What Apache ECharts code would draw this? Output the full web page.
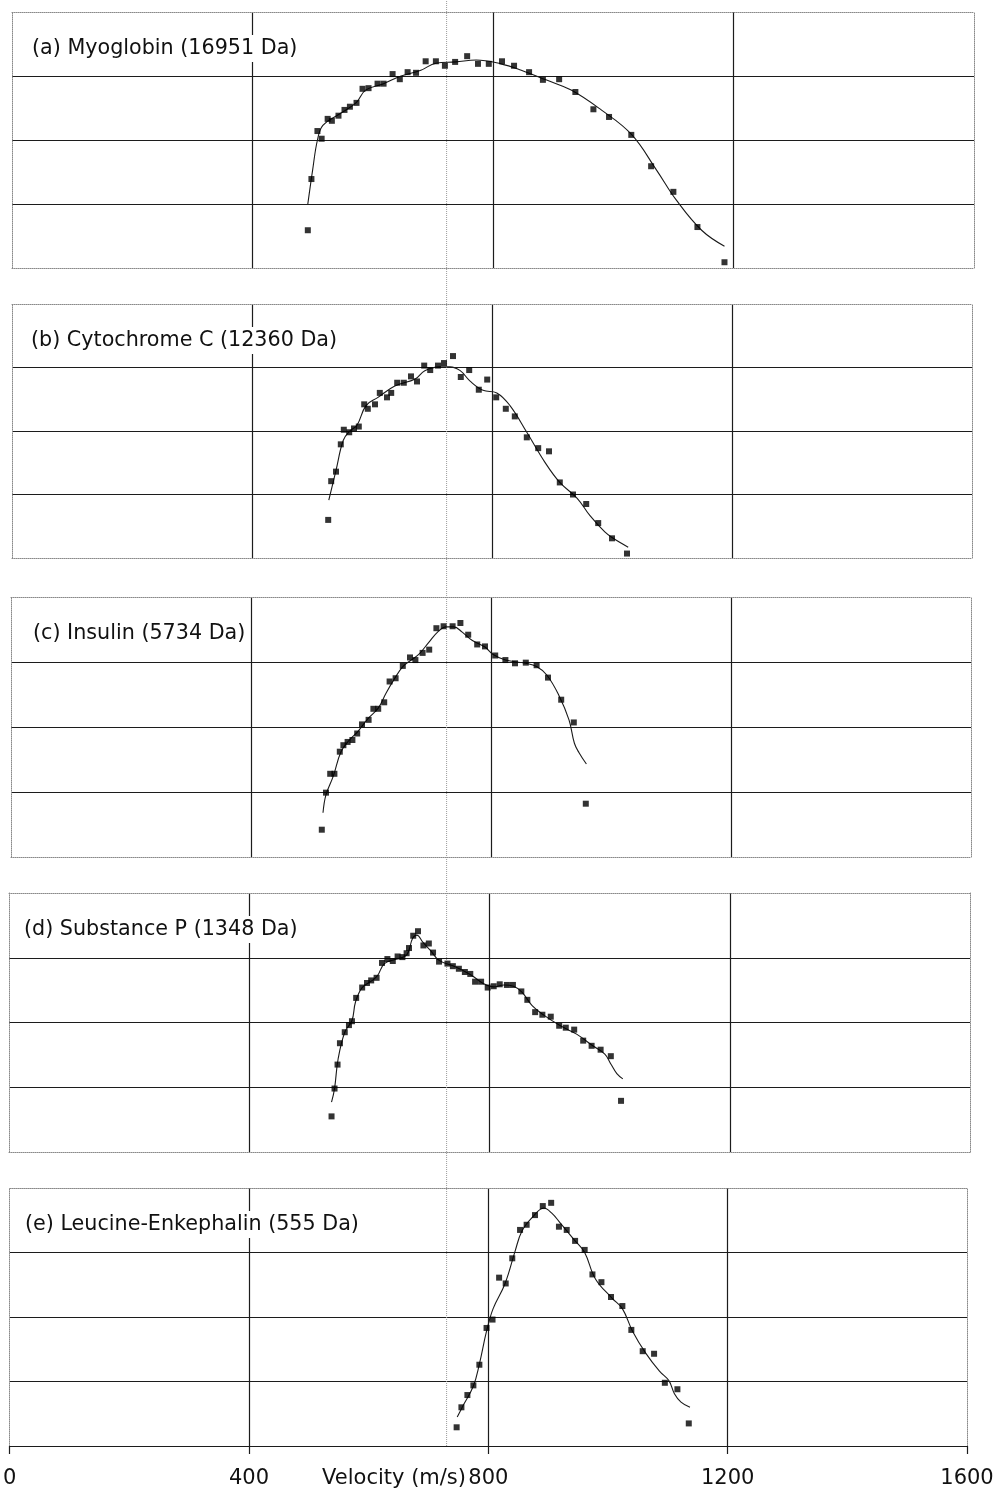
<!DOCTYPE html>
<html>
<head>
<meta charset="utf-8">
<script src="https://cdn.jsdelivr.net/npm/echarts@6/dist/echarts.min.js"></script>
<style>
  html, body { margin: 0; padding: 0; background: #fff; }
  #chart { width: 1006px; height: 1495px; }
</style>
</head>
<body>
<div id="chart"></div>
<script>
// panel titles
var panelNames = ['(a) Myoglobin (16951 Da)', '(b) Cytochrome C (12360 Da)', '(c) Insulin (5734 Da)',
    '(d) Substance P (1348 Da)', '(e) Leucine-Enkephalin (555 Da)'];

// x axis ticks (m/s)
var velTicks = [0, 400, 800, 1200, 1600];
var refVel = 726;

// (a) myoglobin
var aVel = [492,498,508,515,525,532,543,553,562,573,583,593,608,618,633,645,658,672,688,705,720,737,757,775,793,815,835,860,883,910,937,967,993,1030,1063,1100,1140,1185];
var aInt = [0.59,1.39,2.14,2.02,2.33,2.30,2.38,2.47,2.52,2.58,2.80,2.81,2.88,2.88,3.03,2.95,3.06,3.05,3.23,3.23,3.16,3.22,3.31,3.19,3.19,3.23,3.16,3.06,2.94,2.95,2.75,2.48,2.36,2.08,1.59,1.19,0.64,0.09];
var aFitVel = [492,500,508,517,542,572,588,618,647,680,705,738,772,813,847,888,930,980,1030,1072,1105,1147,1185];
var aFitInt = [1.0,1.53,2.0,2.23,2.39,2.58,2.78,2.88,3.0,3.09,3.2,3.22,3.25,3.19,3.09,2.94,2.78,2.47,2.09,1.53,1.06,0.59,0.34];

// (b) cytochrome c
var bVel = [527,532,540,548,553,562,570,578,587,593,605,613,625,632,642,653,665,675,687,697,710,720,735,748,762,778,792,807,823,838,858,877,895,913,935,957,977,1000,1025];
var bInt = [0.60,1.21,1.36,1.79,2.02,1.98,2.04,2.07,2.42,2.35,2.42,2.60,2.53,2.60,2.76,2.76,2.86,2.78,3.03,2.96,3.03,3.07,3.18,2.85,2.96,2.65,2.81,2.53,2.35,2.23,1.90,1.73,1.68,1.19,1.0,0.85,0.55,0.31,0.07];
var bFitVel = [528,540,552,563,575,590,610,638,672,688,713,730,747,763,785,808,830,858,888,913,942,963,988,1002,1027];
var bFitInt = [0.91,1.38,1.85,2.0,2.09,2.4,2.53,2.71,2.82,2.95,3.01,3.01,2.95,2.79,2.64,2.6,2.4,1.98,1.51,1.19,0.94,0.67,0.41,0.31,0.17];

// (c) insulin
var cVel = [518,525,532,539,548,554,561,569,577,585,596,604,612,622,631,641,653,665,674,686,697,709,721,736,749,762,777,790,807,824,840,858,876,895,917,938,958];
var cInt = [0.42,0.99,1.28,1.28,1.62,1.72,1.77,1.80,1.90,2.04,2.11,2.28,2.28,2.38,2.70,2.75,2.94,3.07,3.03,3.14,3.19,3.52,3.55,3.55,3.60,3.42,3.27,3.24,3.10,3.03,2.98,2.99,2.95,2.76,2.42,2.07,0.82];
var cFitVel = [520,525,537,550,564,578,595,612,625,639,653,667,680,697,711,725,738,752,769,790,803,824,858,876,893,913,930,939,947,959];
var cFitInt = [0.68,0.96,1.24,1.62,1.80,1.93,2.13,2.29,2.52,2.74,2.93,3.03,3.12,3.31,3.46,3.54,3.54,3.46,3.33,3.23,3.12,3.03,2.98,2.93,2.80,2.49,2.11,1.75,1.6,1.43];

// (d) substance p
var dVel = [537,542,547,551,559,566,571,578,588,596,603,612,621,630,639,647,655,662,666,673,681,690,699,706,716,730,739,749,759,768,776,786,797,807,817,829,839,853,863,876,888,902,916,927,941,956,970,985,1002,1019];
var dInt = [0.55,0.98,1.35,1.68,1.85,1.96,2.02,2.38,2.54,2.61,2.65,2.69,2.92,2.98,2.95,3.02,3.01,3.07,3.15,3.34,3.41,3.19,3.22,3.08,2.94,2.91,2.87,2.83,2.78,2.75,2.63,2.63,2.54,2.56,2.59,2.58,2.58,2.48,2.35,2.16,2.12,2.09,1.95,1.92,1.89,1.72,1.64,1.58,1.48,0.79];
var dFitVel = [537,542,548,559,571,577,588,605,614,625,645,662,672,679,689,702,716,743,770,790,807,824,840,854,871,891,918,945,972,992,1002,1012,1022];
var dFitInt = [0.77,0.98,1.44,1.85,2.03,2.32,2.54,2.65,2.73,2.91,2.98,3.04,3.30,3.35,3.24,3.11,2.96,2.86,2.73,2.60,2.55,2.58,2.56,2.47,2.26,2.11,1.95,1.82,1.64,1.51,1.36,1.21,1.13];

// (e) leucine-enkephalin
var eVel = [747,755,765,775,785,797,807,818,829,840,853,864,878,891,905,918,931,945,961,974,989,1005,1024,1039,1058,1077,1095,1116,1135];
var eInt = [0.29,0.60,0.79,0.94,1.26,1.83,1.96,2.61,2.52,2.91,3.35,3.43,3.58,3.72,3.77,3.40,3.35,3.18,3.04,2.66,2.54,2.31,2.17,1.80,1.47,1.43,0.98,0.88,0.35];
var eFitVel = [748,758,775,785,797,808,828,845,856,873,893,906,920,945,961,979,1007,1024,1041,1063,1086,1102,1111,1122,1137];
var eFitInt = [0.45,0.63,0.93,1.27,1.78,2.13,2.52,3.03,3.33,3.54,3.69,3.61,3.46,3.18,3.0,2.59,2.29,2.13,1.78,1.44,1.16,1.01,0.81,0.68,0.60];

var pointSets = [[aVel, aInt], [bVel, bInt], [cVel, cInt], [dVel, dInt], [eVel, eInt]];
var fitSets = [[aFitVel, aFitInt], [bFitVel, bFitInt], [cFitVel, cFitInt], [dFitVel, dFitInt], [eFitVel, eFitInt]];

// layout of the five stacked panels
var panelTop = [12, 304, 597, 893, 1188];
var panelHeight = [256, 254, 260, 259, 258];
var panelLeft = [12, 12, 11, 9, 8];
var panelWidth = [962, 960, 960, 961, 959];
var titleLeft = [28, 27, 29, 20, 21];

var zip = function (xs, ys) {
    var res = [];
    for (var i = 0; i < xs.length; i++) {
        res.push([xs[i], ys[i]]);
    }
    return res;
};

var font = 'DejaVu Sans';
var dotted = { color: '#8a8a8a', type: 'dotted', width: 1 };
var gridLine = { color: '#1c1c1c', width: 1.2 };

var grids = [], xAxes = [], yAxes = [], series = [], titles = [];

for (var i = 0; i < 5; i++) {
    var last = (i === 4);
    grids.push({ left: panelLeft[i], top: panelTop[i], width: panelWidth[i], height: panelHeight[i] });
    xAxes.push({
        gridIndex: i, type: 'value', min: 0, max: 1600, interval: 400, position: 'bottom',
        axisLine: { show: true, onZero: false, lineStyle: last ? { color: '#1c1c1c', width: 1.2 } : dotted },
        axisTick: { show: last, length: 8, lineStyle: { color: '#1c1c1c', width: 1.2 } },
        axisLabel: {
            show: last, color: '#111', fontFamily: font, fontSize: 21, margin: 22,
            formatter: function (v) { return velTicks.indexOf(v) >= 0 ? String(v) : ''; }
        },
        splitLine: { show: true, showMinLine: false, showMaxLine: false, lineStyle: gridLine }
    });
    xAxes.push({
        gridIndex: i, type: 'value', min: 0, max: 1600, position: 'top',
        axisLine: { show: true, onZero: false, lineStyle: dotted },
        axisTick: { show: false }, axisLabel: { show: false }, splitLine: { show: false }
    });
    yAxes.push({
        gridIndex: i, type: 'value', min: 0, max: 4, interval: 1, position: 'left',
        axisLine: { show: true, onZero: false, lineStyle: dotted },
        axisTick: { show: false }, axisLabel: { show: false },
        splitLine: { show: true, showMinLine: false, showMaxLine: false, lineStyle: gridLine }
    });
    yAxes.push({
        gridIndex: i, type: 'value', min: 0, max: 4, position: 'right',
        axisLine: { show: true, onZero: false, lineStyle: dotted },
        axisTick: { show: false }, axisLabel: { show: false }, splitLine: { show: false }
    });
    series.push({
        type: 'line', xAxisIndex: i * 2, yAxisIndex: i * 2,
        data: zip(fitSets[i][0], fitSets[i][1]),
        smooth: 0.4, showSymbol: false, symbol: 'none',
        lineStyle: { color: '#1a1a1a', width: 1.1 }, z: 3
    });
    series.push({
        type: 'scatter', xAxisIndex: i * 2, yAxisIndex: i * 2,
        data: zip(pointSets[i][0], pointSets[i][1]),
        symbol: 'rect', symbolSize: 6,
        itemStyle: { color: '#000' }, z: 4
    });
    titles.push({
        text: panelNames[i], left: titleLeft[i], top: panelTop[i] + 23,
        padding: [3, 4], backgroundColor: '#fff',
        textStyle: { fontFamily: font, fontSize: 20.7, fontWeight: 'normal', color: '#111' }
    });
}

// overlay grid for the dotted reference line running through all panels
grids.push({ left: 11, top: 0, width: 960, height: 1446 });
xAxes.push({ gridIndex: 5, type: 'value', min: 0, max: 1600, show: false });
yAxes.push({ gridIndex: 5, type: 'value', min: 0, max: 1, show: false });
series.push({
    type: 'line', xAxisIndex: 10, yAxisIndex: 10,
    data: [[refVel, 0], [refVel, 1]],
    symbol: 'none', lineStyle: { color: '#9a9a9a', type: 'dotted', width: 1 }, z: 1
});

var chart = echarts.init(document.getElementById('chart'), null, { renderer: 'canvas' });
chart.setOption({
    animation: false,
    backgroundColor: '#fff',
    title: titles,
    grid: grids,
    xAxis: xAxes,
    yAxis: yAxes,
    series: series,
    graphic: [{
        type: 'text', right: 1006 - 466, top: 1468,
        style: { text: 'Velocity (m/s)', font: '21px "DejaVu Sans"', fill: '#111' }
    }]
});
</script>
</body>
</html>
